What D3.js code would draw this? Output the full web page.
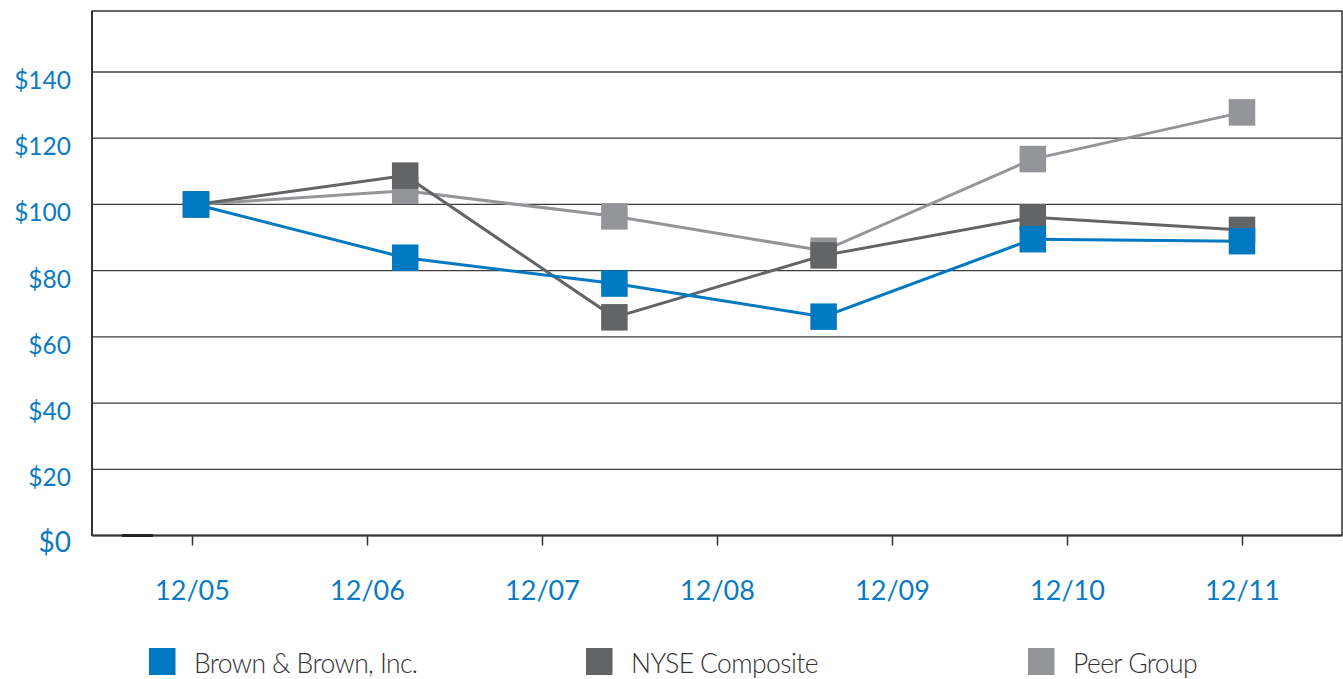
<!DOCTYPE html>
<html>
<head>
<meta charset="utf-8">
<script src="https://cdn.jsdelivr.net/npm/d3@7"></script>
<style>
  body { margin: 0; background: #fff; }
  svg { display: block; }
</style>
</head>
<body>
<div id="chart"></div>
<script>
const svgWidth = 1343
const svgHeight = 679

// tick labels on the x axis
const tickLabels = ["12/05", "12/06", "12/07", "12/08", "12/09", "12/10", "12/11"]
const yTicks = [0, 20, 40, 60, 80, 100, 120, 140]

// six measurement points, evenly spaced from 12/05 to 12/11
const periods = [0, 1, 2, 3, 4, 5]
const brownValues = [100, 83.9, 76.1, 66.1, 89.5, 88.9]
const nyseValues = [100, 108.7, 65.9, 84.6, 96.1, 92.3]
const peerValues = [100, 104.1, 96.4, 86.0, 113.7, 127.8]

const seriesNames = ["Brown & Brown, Inc.", "NYSE Composite", "Peer Group"]
const seriesColors = ["#0079c2", "#636466", "#939598"]

let plot = { left: 92, right: 1342, top: 11, bottom: 535.5 }

let svg = d3.select("#chart")
  .append("svg")
  .attr("width", svgWidth)
  .attr("height", svgHeight)

let yScale = d3.scaleLinear()
  .domain([0, 140])
  .range([plot.bottom, 72])

let tickScale = d3.scalePoint()
  .domain(tickLabels)
  .range([192, 1242])

let xScale = d3.scalePoint()
  .domain(periods)
  .range([196, 1242])

// gridlines
svg.append("g")
  .selectAll("line")
  .data(yTicks.filter(d => d > 0))
  .enter()
  .append("line")
  .attr("x1", plot.left)
  .attr("x2", plot.right)
  .attr("y1", d => yScale(d))
  .attr("y2", d => yScale(d))
  .attr("stroke", "#3d3d3d")
  .attr("stroke-width", 1.3)

// frame
svg.append("rect")
  .attr("x", plot.left)
  .attr("y", plot.top)
  .attr("width", plot.right - plot.left)
  .attr("height", plot.bottom - plot.top)
  .attr("fill", "none")
  .attr("stroke", "#333")
  .attr("stroke-width", 1.5)

svg.append("line")
  .attr("x1", plot.left).attr("x2", plot.left)
  .attr("y1", plot.top).attr("y2", plot.bottom)
  .attr("stroke", "#333")
  .attr("stroke-width", 2)

// bottom axis with short ticks
let xAxis = svg.append("g")
  .attr("transform", `translate(0, ${plot.bottom})`)
  .call(d3.axisBottom(tickScale).tickSize(10).tickPadding(44))

xAxis.select(".domain").remove()
xAxis.selectAll(".tick line").attr("stroke", "#333").attr("stroke-width", 1.5)
xAxis.selectAll(".tick text")
  .attr("fill", "#0a7bc2")
  .style("font-family", "Lato, sans-serif")
  .style("font-size", "27px")
  .attr("dy", "0.4em")

svg.append("line")
  .attr("x1", plot.left).attr("x2", plot.right)
  .attr("y1", plot.bottom).attr("y2", plot.bottom)
  .attr("stroke", "#333")
  .attr("stroke-width", 2)

svg.append("line")
  .attr("x1", 122).attr("x2", 153)
  .attr("y1", plot.bottom).attr("y2", plot.bottom)
  .attr("stroke", "#222")
  .attr("stroke-width", 3)

// y labels
svg.append("g")
  .selectAll("text")
  .data(yTicks)
  .enter()
  .append("text")
  .attr("x", 71)
  .attr("y", d => yScale(d) + (d === 0 ? 16.5 : 17))
  .attr("text-anchor", "end")
  .attr("fill", "#0a7bc2")
  .style("font-family", "Lato, sans-serif")
  .style("font-size", d => d === 0 ? "28px" : "24.5px")
  .text(d => "$" + d)

// series, drawn back to front
let series = [
  { name: seriesNames[2], color: seriesColors[2], values: peerValues },
  { name: seriesNames[1], color: seriesColors[1], values: nyseValues },
  { name: seriesNames[0], color: seriesColors[0], values: brownValues }
]

let line = d3.line()
  .x((d, i) => xScale(periods[i]))
  .y(d => yScale(d))

let markerSize = 26.5

series.forEach(s => {
  let g = svg.append("g")
  g.append("path")
    .datum(s.values)
    .attr("d", line)
    .attr("fill", "none")
    .attr("stroke", s.color)
    .attr("stroke-width", 3)

  g.selectAll("rect")
    .data(s.values)
    .enter()
    .append("rect")
    .attr("x", (d, i) => xScale(periods[i]) - markerSize / 2)
    .attr("y", d => yScale(d) - markerSize / 2)
    .attr("width", markerSize)
    .attr("height", markerSize)
    .attr("fill", s.color)
})

// legend
let legendX = [149, 586, 1028]
let legend = svg.append("g")
  .selectAll("g")
  .data(seriesNames)
  .enter()
  .append("g")
  .attr("transform", (d, i) => `translate(${legendX[i]}, 648)`)

legend.append("rect")
  .attr("width", 26.5)
  .attr("height", 27)
  .attr("fill", (d, i) => seriesColors[i])

legend.append("text")
  .attr("x", 45)
  .attr("y", 25)
  .attr("fill", "#333")
  .style("font-family", "Lato, sans-serif")
  .style("font-weight", 300)
  .style("font-size", "26.5px")
  .style("letter-spacing", "-0.6px")
  .text(d => d)
</script>
</body>
</html>
